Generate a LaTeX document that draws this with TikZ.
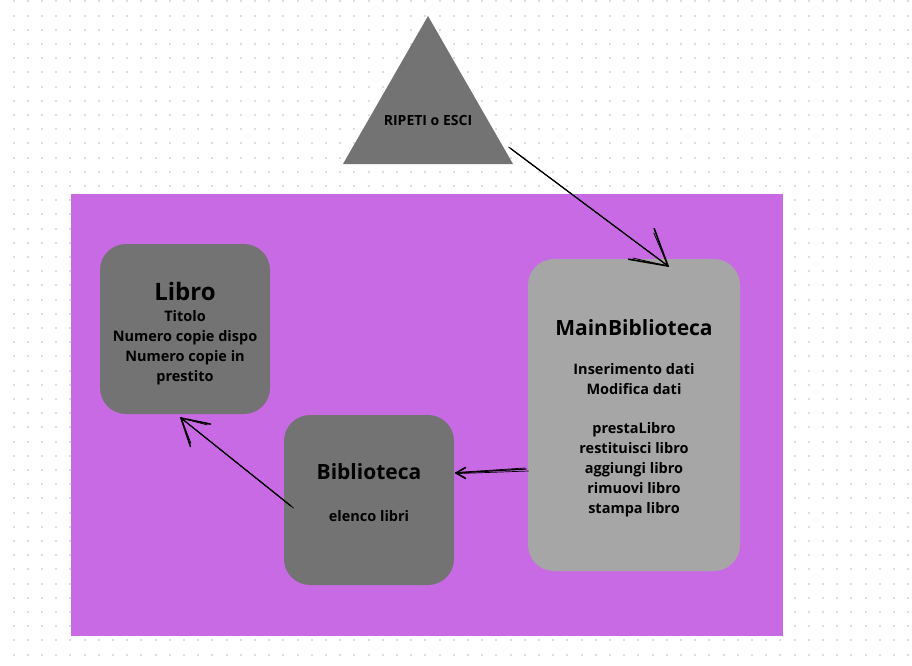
\documentclass[tikz,border=0pt]{standalone}
\usepackage{fontspec}
\setmainfont{Open Sans}
\usetikzlibrary{calc}
\definecolor{purp}{HTML}{C86AE4}
\definecolor{dgray}{HTML}{737373}
\definecolor{lgray}{HTML}{A6A6A6}
\definecolor{dotc}{HTML}{DCDCE6}
\newcommand\skarrow[3]{%
  \draw[sk] (#1) -- (#2);
  \draw[sk, line width=0.7pt] ($(#1)+(2.5,2)$) -- ($(#2)+(0.6,0.6)$);
  \draw[sk, line width=0.7pt] ($(#1)+(-1.5,-1)$) -- ($(#2)+(-0.5,-0.5)$);
  \draw[sk, line width=1.6pt] ($(#2)!#3!27:(#1)$) -- (#2) -- ($(#2)!#3!-33:(#1)$);
  \draw[sk, line width=0.8pt] ($(#2)!0.9*#3!24:(#1)$) -- (#2) -- ($(#2)!0.9*#3!-30:(#1)$);
}
\begin{document}
\begin{tikzpicture}[x=1pt,y=-1pt,
  box/.style={draw=none, rounded corners=26pt, inner sep=0pt},
  body/.style={font=\bfseries\fontsize{14.5}{20}\selectfont, align=center, text=black},
  ttl/.style={font=\bfseries\fontsize{21}{24}\selectfont, text=black},
  sk/.style={line width=1.2pt, black, line cap=round, line join=round}]
\useasboundingbox (0,0) rectangle (912,665);
\fill[white] (0,0) rectangle (912,665);
\foreach \i in {0,...,63}{\foreach \j in {0,...,46}{%
  \fill[dotc] ({13.5+14.2*\i-1},{1.3+14.2*\j-1}) rectangle ++(2,2);}}
\fill[purp] (71,194) rectangle (783,636);
% triangle
\fill[dgray] (428,16) -- (513,164) -- (343,164) -- cycle;
\node[font=\bfseries\fontsize{14}{16}\selectfont, text=black] (rip) at (428,120) {RIPETI o ESCI};
% boxes
\node[box, fill=dgray, minimum width=170pt, minimum height=170pt] (libro) at (185,329) {};
\node[box, fill=dgray, minimum width=170pt, minimum height=170pt] (bib) at (369,500) {};
\node[box, fill=lgray, minimum width=212pt, minimum height=312pt] (main) at (634,415) {};
% texts
\node[ttl, font=\bfseries\fontsize{24}{28}\selectfont] (libroT) at (185,291) {Libro};
\node[body] (libroB) at (185,348) {Titolo\\Numero copie dispo\\Numero copie in\\prestito};
\node[ttl] (bibT) at (369,472) {Biblioteca};
\node[body] (bibB) at (369,516) {elenco libri};
\node[ttl] (mainT) at (634,328) {MainBiblioteca};
\node[body, font=\bfseries\fontsize{14.5}{19.8}\selectfont] (mainB) at (634,440)
  {Inserimento dati\\Modifica dati\\ \\prestaLibro\\restituisci libro\\aggiungi libro\\rimuovi libro\\stampa libro};
% arrow coordinates
\coordinate (a1s) at (510,148);
\coordinate (a1e) at (668,266);
\coordinate (a2s) at (526,469);
\coordinate (a2e) at (456,473);
\coordinate (a3s) at (291,506);
\coordinate (a3e) at (181,418);
\skarrow{a1s}{a1e}{40pt}
\skarrow{a2s}{a2e}{11pt}
\skarrow{a3s}{a3e}{30pt}
\end{tikzpicture}
\end{document}
